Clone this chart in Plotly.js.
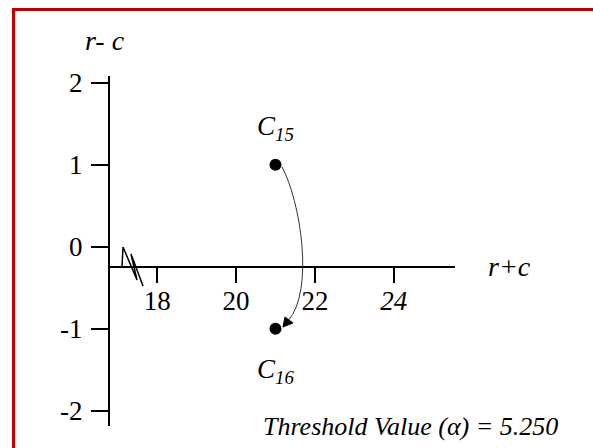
<!DOCTYPE html>
<html>
<head>
<meta charset="utf-8">
<script src="https://cdn.plot.ly/plotly-3.0.1.min.js"></script>
<style>
html,body{margin:0;padding:0;background:#fff;}
#chart{width:593px;height:448px;}
</style>
</head>
<body>
<div id="chart"></div>
<script>
// ---- data ----
const pointNames = ['C<sub>15</sub>', 'C<sub>16</sub>'];
const sumRC = [21, 21];      // r + c
const diffRC = [1, -1];      // r - c
const xTickVals = [18, 20, 22, 24];
const xTickText = ['18', '20', '22', '<i>24</i>'];
const yTickVals = [2, 1, 0, -1, -2];
const yTickText = ['2', '1', '0', '-1', '-2'];
const thresholdText = 'Threshold Value (α) = 5.250';

// ---- layout geometry (pixels) ----
const W = 593, H = 448;
const L = 110, R = 455, T = 76, B = 426;
const pw = R - L, ph = B - T;
function px(x){ return (x - L) / pw; }
function py(y){ return (B - y) / ph; }
function P(x, y){ return px(x).toFixed(4) + ',' + py(y).toFixed(4); }

const serif = 'Liberation Serif';

const trace = {
  x: sumRC, y: diffRC, mode: 'markers', type: 'scatter',
  marker: {size: 12, color: '#000'},
  hoverinfo: 'skip', showlegend: false, cliponaxis: false
};

const annotations = [
  {x: sumRC[0], y: diffRC[0], xref: 'x', yref: 'y', text: '<i>' + pointNames[0] + '</i>',
   showarrow: false, yshift: 37, xshift: 0, font: {family: serif, size: 27, color: '#000'}},
  {x: sumRC[1], y: diffRC[1], xref: 'x', yref: 'y', text: '<i>' + pointNames[1] + '</i>',
   showarrow: false, yshift: -42, xshift: 0, font: {family: serif, size: 27, color: '#000'}},
  {x: px(105), y: py(40), xref: 'paper', yref: 'paper', text: '<i>r- c</i>', showarrow: false,
   xanchor: 'center', yanchor: 'middle', font: {family: serif, size: 28, color: '#000'}},
  {x: px(509), y: py(266), xref: 'paper', yref: 'paper', text: '<i>r+c</i>', showarrow: false,
   xanchor: 'center', yanchor: 'middle', font: {family: serif, size: 28, color: '#000'}},
  {x: px(410), y: py(426), xref: 'paper', yref: 'paper', text: '<i>' + thresholdText + '</i>', showarrow: false,
   xanchor: 'center', yanchor: 'middle', font: {family: serif, size: 26, color: '#000'}}
];

const shapes = [
  // red frame
  {type: 'rect', xref: 'paper', yref: 'paper', x0: px(13.5), y0: py(470), x1: px(620), y1: py(9.5),
   line: {color: '#C00000', width: 3}, fillcolor: 'rgba(0,0,0,0)'},
  // axis break zigzag
  {type: 'path', xref: 'paper', yref: 'paper',
   path: 'M' + P(122, 267) + ' L' + P(123, 247) + ' L' + P(137, 280) + ' L' + P(131, 254) + ' L' + P(143, 286),
   line: {color: '#000', width: 1.5}},
  // curved arrow
  {type: 'path', xref: 'paper', yref: 'paper',
   path: 'M' + P(282, 167) + ' C' + P(300, 200) + ' ' + P(315, 290) + ' ' + P(288, 321),
   line: {color: '#333', width: 1}},
  {type: 'path', xref: 'paper', yref: 'paper',
   path: 'M' + P(283, 327) + ' L' + P(285, 317) + ' L' + P(293, 323) + ' Z',
   line: {color: '#000', width: 1}, fillcolor: '#000'}
];

const layout = {
  width: W, height: H,
  margin: {l: L, r: W - R, t: T, b: H - B, pad: 0},
  paper_bgcolor: '#fff', plot_bgcolor: '#fff',
  showlegend: false,
  font: {family: serif, size: 27, color: '#000'},
  xaxis: {
    range: [16.8, 25.556], anchor: 'free', position: py(267),
    showgrid: false, zeroline: false, showline: true, linecolor: '#000', linewidth: 2,
    ticks: 'outside', ticklen: 15, tickwidth: 2, tickcolor: '#000',
    tickmode: 'array', tickvals: xTickVals, ticktext: xTickText,
    tickfont: {family: serif, size: 27, color: '#000'}, ticklabelstandoff: -5
  },
  yaxis: {
    range: [-2.185, 2.083],
    showgrid: false, zeroline: false, showline: true, linecolor: '#000', linewidth: 2,
    ticks: 'outside', ticklen: 17, tickwidth: 2, tickcolor: '#000',
    tickmode: 'array', tickvals: yTickVals, ticktext: yTickText,
    tickfont: {family: serif, size: 27, color: '#000'}, ticklabelstandoff: 3
  },
  annotations: annotations,
  shapes: shapes
};

Plotly.newPlot('chart', [trace], layout, {displayModeBar: false, staticPlot: true});
</script>
</body>
</html>
